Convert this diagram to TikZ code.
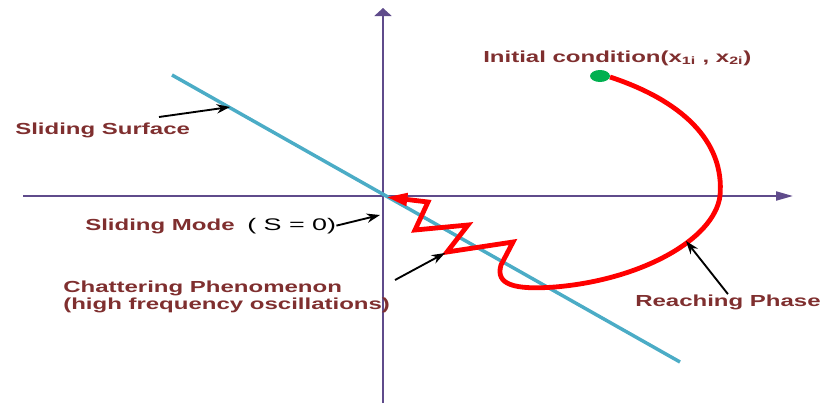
\documentclass[tikz,border=0pt]{standalone}
\usepackage{fontspec}
\setmainfont{Liberation Sans}
\newfontfamily\widefont{Liberation Sans}[FakeStretch=1.5]
\newfontfamily\eqnfont{Liberation Sans}[FakeStretch=1.6]
\usetikzlibrary{arrows.meta}
\definecolor{axisPurple}{HTML}{5F4B8B}
\definecolor{surfCyan}{HTML}{4BACC6}
\definecolor{lblRed}{HTML}{7F2F2F}
\definecolor{trajRed}{HTML}{FF0000}
\definecolor{startGreen}{HTML}{00B050}

\begin{document}
\begin{tikzpicture}[
  x=0.75pt, y=-0.75pt,
  lbl/.style={font={\widefont\bfseries\fontsize{12}{10.5}\selectfont}, text=lblRed,
              inner sep=0pt, align=left},
  eqn/.style={font={\eqnfont\fontsize{12.6}{10.5}\selectfont}, inner sep=0pt},
  axis/.style={draw=axisPurple, line width=1.5pt},
  traj/.style={draw=trajRed, line width=3.6pt},
  arr/.style={-{Stealth[length=10pt,width=7pt]}, line width=1.4pt}
]
\useasboundingbox (0,0) rectangle (822,407);
% axes
\coordinate (xl) at (23,196);
\coordinate (xr) at (793,196);
\coordinate (yb) at (383,403);
\coordinate (yt) at (383,8);
\draw[axis, -{Triangle[length=12.75pt,width=6.75pt]}] (xl) -- (xr);
\draw[axis, -{Triangle[length=6pt,width=12.75pt]}] (yb) -- (yt);
% sliding surface
\coordinate (s1) at (172,75);
\coordinate (s2) at (680,362);
\draw[surfCyan, line width=2.6pt] (s1) -- (s2);
% trajectory
\coordinate (x0) at (600,76);
\coordinate (o) at (386,197);
\draw[traj, line join=miter, -{Triangle[length=16pt,width=9pt]}]
  (610,77) .. controls (680,100) and (725,140) .. (720,196)
  .. controls (714,240) and (640,280) .. (555,287)
  .. controls (515,290) and (495,285) .. (501,265)
  -- (513,242) -- (447,252) -- (468,225) -- (415,230) -- (428,202) -- (o);
\fill[startGreen] (x0) ellipse [x radius=7.5pt, y radius=4.5pt];
% labels
\node[lbl, anchor=base west] (ss) at (15,134) {Sliding Surface};
\node[lbl, anchor=base west] (ic) at (483,62) {Initial condition(x\textsubscript{1i} , x\textsubscript{2i})};
\node[lbl, anchor=base west] (sm) at (85,230) {Sliding Mode};
\node[eqn, anchor=base west] (smeq) at (247,230) {( S = 0)};
\node[lbl, anchor=north west] (ch) at (63,281) {Chattering Phenomenon\\(high frequency oscillations)};
\node[lbl, anchor=base west] (rp) at (635,306) {Reaching Phase};
% pointers
\coordinate (ssFrom) at (159,117);
\coordinate (ssTip) at (230,107);
\coordinate (smTip) at (380,215);
\coordinate (chFrom) at (395,280);
\coordinate (chTip) at (445,253);
\coordinate (rpTip) at (686,241);
\draw[arr] (ssFrom) -- (ssTip);
\draw[arr] (smeq.east) -- (smTip);
\draw[arr] (chFrom) -- (chTip);
\draw[arr] (rp.north) -- (rpTip);
\end{tikzpicture}
\end{document}
